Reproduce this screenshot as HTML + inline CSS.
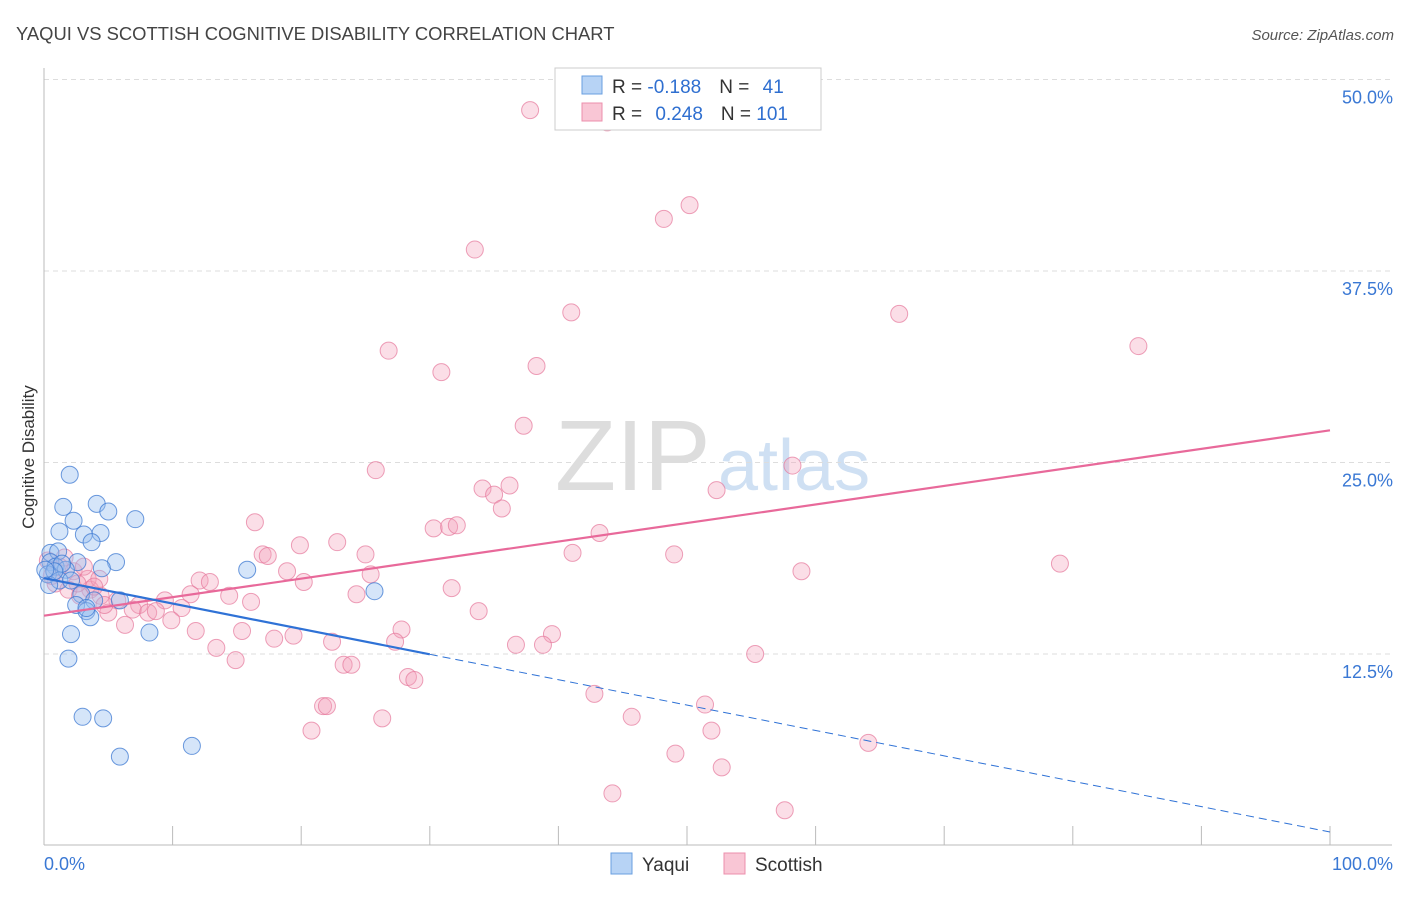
<!DOCTYPE html>
<html><head><meta charset="utf-8"><style>
body{margin:0;background:#fff;font-family:"Liberation Sans",sans-serif;}
svg text{font-family:"Liberation Sans",sans-serif;}
</style></head><body>
<svg width="1406" height="892" viewBox="0 0 1406 892">
<text x="16" y="40" font-size="18.4" fill="#444">YAQUI VS SCOTTISH COGNITIVE DISABILITY CORRELATION CHART</text>
<text x="1394" y="40" font-size="15" fill="#555" font-style="italic" text-anchor="end">Source: ZipAtlas.com</text>
<text x="34" y="457" font-size="17" fill="#333" text-anchor="middle" transform="rotate(-90 34 457)">Cognitive Disability</text>
<text x="555" y="490" font-size="100" fill="#ddd" font-family="Liberation Serif">ZIP</text>
<text x="718" y="490" font-size="72" fill="#cfe0f3">atlas</text>
<g id="grid"></g><g id="axes"></g><g id="pts"></g><g id="lines"></g>
<g>
<rect x="555" y="68" width="266" height="62" fill="#fff" stroke="#ccc"/>
<rect x="582" y="76" width="20" height="18" fill="#b7d3f5" stroke="#6a9fe0"/>
<rect x="582" y="103" width="20" height="18" fill="#f9c6d5" stroke="#ec8fac"/>
<text x="612" y="93" font-size="19" fill="#333">R = <tspan fill="#2f6fd0">-0.188</tspan><tspan dx="18">N = </tspan><tspan fill="#2f6fd0" dx="8">41</tspan></text>
<text x="612" y="120" font-size="19" fill="#333">R = <tspan fill="#2f6fd0" dx="8">0.248</tspan><tspan dx="18">N = </tspan><tspan fill="#2f6fd0">101</tspan></text>
</g>
<g>
<rect x="611" y="853" width="21" height="21" fill="#b7d3f5" stroke="#6a9fe0"/>
<text x="642" y="871" font-size="19" fill="#333">Yaqui</text>
<rect x="724" y="853" width="21" height="21" fill="#f9c6d5" stroke="#ec8fac"/>
<text x="755" y="871" font-size="19" fill="#333">Scottish</text>
</g>
</svg>
<script>
const yTicks=[12.5,25,37.5,50];
const yTickLabels=["12.5%","25.0%","37.5%","50.0%"];
const xLabels=["0.0%","100.0%"];
const yaquiX=[2.0,1.5,4.1,5.0,7.1,2.3,1.2,3.1,4.4,3.7,0.5,1.1,5.6,0.5,2.6,0.9,1.7,0.3,15.8,1.2,2.1,0.4,2.9,3.9,5.9,2.5,3.3,3.6,25.7,2.1,8.2,1.9,3.0,4.6,11.5,5.9,4.5,1.4,0.8,3.3,0.1];
const yaquiY=[24.2,22.1,22.3,21.8,21.3,21.2,20.5,20.3,20.4,19.8,19.1,19.2,18.5,18.5,18.5,18.2,18.0,17.7,18.0,17.3,17.3,17.0,16.4,16.0,16.0,15.7,15.3,14.9,16.6,13.8,13.9,12.2,8.4,8.3,6.5,5.8,18.1,18.4,17.9,15.5,18.0];
const scotX=[37.8,53.8,43.8,50.2,48.2,33.5,41.0,66.5,85.1,26.8,38.3,30.9,37.3,25.8,58.2,52.3,34.1,36.2,35.0,35.6,30.3,31.5,32.1,16.4,43.2,41.1,49.0,17.0,17.4,19.9,22.8,25.0,79.0,58.9,18.9,25.4,12.1,12.9,20.2,31.7,24.3,11.4,14.4,16.1,7.4,5.7,9.4,10.7,33.8,3.6,4.4,5.0,6.9,8.1,8.7,9.9,6.3,11.8,15.4,27.8,39.5,17.9,19.4,22.4,27.3,36.7,38.8,13.4,14.9,55.3,23.3,23.9,28.3,28.8,42.8,51.4,21.7,22.0,45.7,26.3,20.8,51.9,64.1,49.1,52.7,44.2,57.6,1.2,2.3,3.4,0.9,1.9,2.8,4.3,0.3,1.6,3.1,3.9,0.6,2.6,4.7];
const scotY=[48.0,50.0,47.2,41.8,40.9,38.9,34.8,34.7,32.6,32.3,31.3,30.9,27.4,24.5,24.8,23.2,23.3,23.5,22.9,22.0,20.7,20.8,20.9,21.1,20.4,19.1,19.0,19.0,18.9,19.6,19.8,19.0,18.4,17.9,17.9,17.7,17.3,17.2,17.2,16.8,16.4,16.4,16.3,15.9,15.7,16.0,16.0,15.5,15.3,16.7,16.3,15.2,15.4,15.2,15.3,14.7,14.4,14.0,14.0,14.1,13.8,13.5,13.7,13.3,13.3,13.1,13.1,12.9,12.1,12.5,11.8,11.8,11.0,10.8,9.9,9.2,9.1,9.1,8.4,8.3,7.5,7.5,6.7,6.0,5.1,3.4,2.3,18.2,17.9,17.4,17.1,16.7,16.3,17.4,18.6,18.8,18.2,16.9,17.6,17.1,15.7];
const scotTrend=[15.0,27.1];
const yaquiTrend=[17.45,0.88];
const NS="http://www.w3.org/2000/svg";
const X0=44,X1=1330,Ybase=845.5,Ypx=15.32;
function sx(v){return X0+(X1-X0)*v/100;}
function sy(v){return Ybase-v*Ypx;}
function mk(t,a,p){const e=document.createElementNS(NS,t);for(const k in a)e.setAttribute(k,a[k]);document.getElementById(p).appendChild(e);return e;}
yTicks.forEach((t,i)=>{
 const g=mk('line',{x1:44,x2:1392,y1:sy(t),y2:sy(t),stroke:'#ddd','stroke-dasharray':'5,4'},'grid');
 
 
 const l=mk('text',{x:1393,y:sy(t)+24,'font-size':18,fill:'#3a78d4','text-anchor':'end'},'axes');
 l.textContent=yTickLabels[i];
 
 
});
const ya=mk('line',{x1:44,x2:44,y1:68,y2:845,stroke:'#bbb'},'axes');


const xa=mk('line',{x1:44,x2:1392,y1:845,y2:845,stroke:'#bbb'},'axes');


for(let i=1;i<=10;i++){const t=mk('line',{x1:sx(i*10),x2:sx(i*10),y1:826,y2:845,stroke:'#bbb'},'axes');
 
 }
[[0,'start',44],[100,'end',1393]].forEach((d,i)=>{const t=mk('text',{x:d[2],y:870,'font-size':18,fill:'#3a78d4','text-anchor':d[1]},'axes');t.textContent=xLabels[i];
 
 });
scotX.forEach((v,i)=>{const c=mk('circle',{cx:sx(v),cy:sy(scotY[i]),r:8.5,fill:'rgba(244,160,185,0.35)',stroke:'rgba(230,120,155,0.7)','stroke-width':1},'pts');
 
 });
yaquiX.forEach((v,i)=>{const c=mk('circle',{cx:sx(v),cy:sy(yaquiY[i]),r:8.5,fill:'rgba(150,190,240,0.4)',stroke:'rgba(60,120,210,0.75)','stroke-width':1},'pts');
 
 });
const pl=mk('line',{x1:sx(0),y1:sy(scotTrend[0]),x2:sx(100),y2:sy(scotTrend[1]),stroke:'#e8699a','stroke-width':2.2},'lines');


const by30=yaquiTrend[0]+(yaquiTrend[1]-yaquiTrend[0])*0.3;
const b1=mk('line',{x1:sx(0),y1:sy(yaquiTrend[0]),x2:sx(30),y2:sy(by30),stroke:'#2f72d6','stroke-width':2.2},'lines');


const b2=mk('line',{x1:sx(30),y1:sy(by30),x2:sx(100),y2:sy(yaquiTrend[1]),stroke:'#2f72d6','stroke-width':1,'stroke-dasharray':'8,5'},'lines');


</script>
</body></html>
